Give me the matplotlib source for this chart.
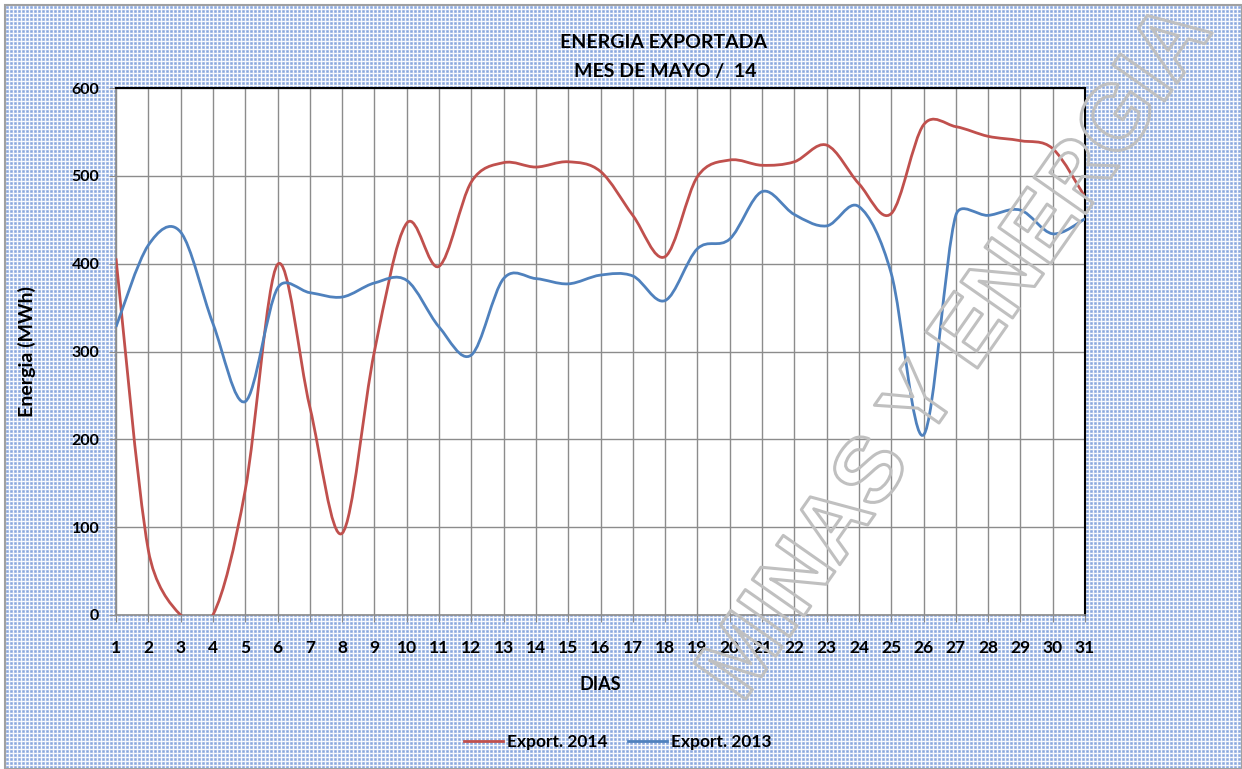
import matplotlib.pyplot as plt
import matplotlib.patheffects as pe
from matplotlib.path import Path
from matplotlib.patches import PathPatch
from matplotlib.lines import Line2D
import numpy as np

# Energia exportada, mayo - valores diarios (MWh)
dias = list(range(1, 32))
export_2014 = [406, 74, 0, 0, 142, 399, 237, 93, 300, 446, 397, 493, 515, 510, 516,
               505, 455, 408, 499, 518, 512, 516, 535, 491, 457, 558, 556, 545, 540, 531, 476]
export_2013 = [328, 421, 436, 332, 243, 372, 367, 362, 378, 381, 328, 296, 383, 383, 377,
               387, 386, 358, 417, 428, 482, 456, 443, 465, 389, 205, 455, 455, 461, 434, 451]

red = "#c0504d"
blue = "#4f81bd"
plt.rcParams["font.family"] = ["Lato", "DejaVu Sans"]

W, H = 1242, 769
# pixeles por unidad en el area de trazado (para el suavizado tipo Excel)
SX = (1085 - 116) / 30
SY = (615 - 88) / 600


def smooth_path(x, y):
    # bezier que pasa por cada punto, con el recorte de tangentes de Excel
    p = np.column_stack([np.array(x) * SX, np.array(y) * SY]).astype(float)
    n = len(p)
    verts = [tuple(p[0])]
    codes = [Path.MOVETO]
    for i in range(n - 1):
        p0, p1, p2, p3 = p[max(i - 1, 0)], p[i], p[i + 1], p[min(i + 2, n - 1)]
        d02 = np.hypot(*(p2 - p0))
        d12 = np.hypot(*(p2 - p1))
        d13 = np.hypot(*(p3 - p1))
        f1 = 1 / 6 if d02 / 6 < d12 / 2 else d12 / (2 * d02)
        f2 = 1 / 6 if d13 / 6 < d12 / 2 else d12 / (2 * d13)
        c1 = p1 + f1 * (p2 - p0)
        c2 = p2 - f2 * (p3 - p1)
        verts += [tuple(c1), tuple(c2), tuple(p2)]
        codes += [Path.CURVE4] * 3
    verts = [(vx / SX, vy / SY) for vx, vy in verts]
    return Path(verts, codes)


fig = plt.figure(figsize=(W / 100, H / 100), dpi=100, facecolor="white")

# fondo punteado azul
tile = np.array([
    [255, 235, 255, 235],
    [235, 150, 120, 150],
    [255, 120, 90, 120],
    [235, 150, 120, 150],
]) / 255.0
pat = np.tile(tile, ((H - 5) // 4 + 1, (W - 5) // 4 + 1))[:H - 5, :W - 5]
img = np.ones((H - 5, W - 5, 3))
img[..., 0] = 0.30 + 0.70 * pat
img[..., 1] = 0.48 + 0.52 * pat
img[..., 2] = 0.80 + 0.20 * pat
fig.figimage(img, xo=5, yo=0, zorder=-2)
fig.add_artist(plt.Rectangle((5 / W, 0), (W - 5) / W, (H - 5) / H, transform=fig.transFigure,
                             fill=False, edgecolor="#a0a0a0", lw=1.5, zorder=-1))

ax = fig.add_axes([116 / W, 1 - 615 / H, (1085 - 116) / W, (615 - 88) / H])
ax.set_facecolor("white")

ax.add_patch(PathPatch(smooth_path(dias, export_2014), facecolor="none", edgecolor=red, lw=2.0, zorder=3))
ax.add_patch(PathPatch(smooth_path(dias, export_2013), facecolor="none", edgecolor=blue, lw=2.0, zorder=3))

ax.set_xlim(1, 31)
ax.set_ylim(0, 600)
ax.set_xticks(dias)
ax.set_yticks(range(0, 601, 100))
ax.grid(True, color="#8c8c8c", lw=1.0)
ax.set_axisbelow(True)
for s in ["top", "right"]:
    ax.spines[s].set_color("black")
    ax.spines[s].set_linewidth(1.5)
for s in ["left", "bottom"]:
    ax.spines[s].set_color("#8c8c8c")
    ax.spines[s].set_linewidth(1.2)

ax.tick_params(axis="x", length=5, color="#8c8c8c", pad=13, labelsize=12.5)
ax.tick_params(axis="y", length=5, color="#8c8c8c", pad=7, labelsize=11.5)
for lab in ax.get_xticklabels() + ax.get_yticklabels():
    lab.set_fontweight("bold")

ax.set_xlabel("DIAS", fontsize=13, fontweight="bold")
ax.xaxis.set_label_coords(0.5, -0.115)
ax.set_ylabel("Energia (MWh)", fontsize=14, fontweight="bold")
ax.yaxis.set_label_coords(-0.083, 0.5)

fig.text(0.534, 1 - 42 / H, "ENERGIA EXPORTADA", ha="center", va="center", fontsize=14, fontweight="bold")
fig.text(0.536, 1 - 72 / H, "MES DE MAYO /  14", ha="center", va="center", fontsize=14, fontweight="bold")

handles = [Line2D([], [], color=red, lw=2.0), Line2D([], [], color=blue, lw=2.0)]
fig.legend(handles, ["Export. 2014", "Export. 2013"], loc="center", bbox_to_anchor=(618 / W, 1 - 742 / H),
           ncol=2, frameon=False, handlelength=2.2, handletextpad=0.25, columnspacing=1.2,
           prop={"weight": "bold", "size": 12.5})

# marca de agua
fig.text(958 / W, 1 - 354 / H, "MINAS Y ENERGIA", ha="center", va="center", rotation=55,
         rotation_mode="anchor", fontsize=66, family="Liberation Sans", fontweight="bold", color="none",
         path_effects=[pe.withStroke(linewidth=2.2, foreground="#c0c0c0")], zorder=10)

fig.savefig("out.png", dpi=100, facecolor="white")
